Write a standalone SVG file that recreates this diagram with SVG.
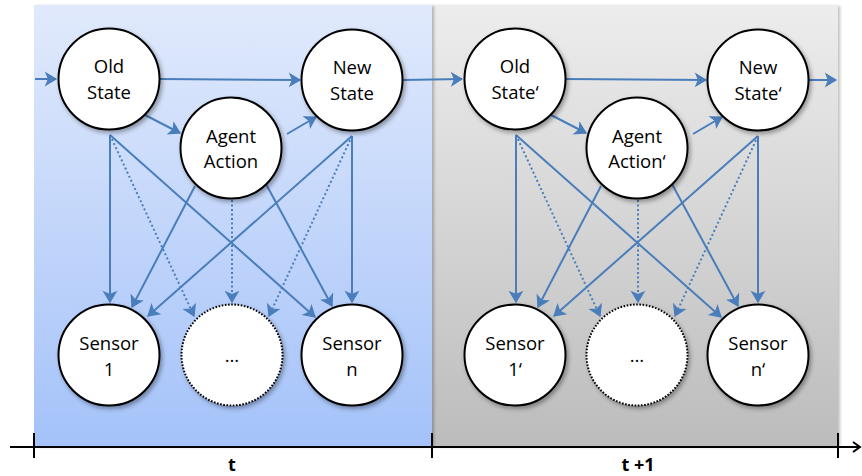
<svg xmlns="http://www.w3.org/2000/svg" width="862" height="476" viewBox="0 0 862 476">
<style>
.node circle{fill:#fff;stroke:#000;stroke-width:2;filter:url(#sh)}
.node circle.dots{stroke-dasharray:1.6 1.6}
.node text{font-family:"Open Sans","Liberation Sans",sans-serif;font-size:18.5px;fill:#000;text-anchor:middle}
.c line{stroke:#4a7ebb;stroke-width:2;fill:none;marker-end:url(#ah)}
.c line.d{stroke-dasharray:2 2.5}
.lbl{font-family:"Open Sans","Liberation Sans",sans-serif;font-size:18px;font-weight:bold;text-anchor:middle}
</style>
<defs>
<linearGradient id="gb" x1="0" y1="0" x2="0" y2="1">
<stop offset="0" stop-color="#e1eafc"/>
<stop offset="1" stop-color="#a4c2f9"/>
</linearGradient>
<linearGradient id="gg" x1="0" y1="0" x2="0" y2="1">
<stop offset="0" stop-color="#ededed"/>
<stop offset="1" stop-color="#bcbcbc"/>
</linearGradient>
<filter id="sh" x="-20%" y="-20%" width="150%" height="150%">
<feDropShadow dx="2" dy="2.5" stdDeviation="2" flood-color="#000" flood-opacity="0.35"/>
</filter>
<filter id="psh" x="-5%" y="-5%" width="110%" height="110%">
<feDropShadow dx="2" dy="1" stdDeviation="1.5" flood-color="#000" flood-opacity="0.25"/>
</filter>
<marker id="ah" viewBox="-12 -8 14 16" refX="0" refY="0" markerWidth="14" markerHeight="16" markerUnits="userSpaceOnUse" orient="auto">
<path d="M-10,-6 L0,0 L-10,6 L-7.5,0 Z" fill="#4a7ebb" stroke="#4a7ebb" stroke-width="1.2" stroke-linejoin="miter"/>
</marker>
<marker id="ak" viewBox="-11 -7 13 14" refX="0" refY="0" markerWidth="13" markerHeight="14" markerUnits="userSpaceOnUse" orient="auto">
<path d="M-7,-5 L0,0 L-7,5" fill="none" stroke="#000" stroke-width="2"/>
</marker>
</defs>
<rect width="862" height="476" fill="#fff"/>
<g id="panels">
<rect id="panel-t1" x="432" y="5" width="406" height="441" fill="url(#gg)" filter="url(#psh)"/>
<rect id="panel-t" x="34" y="5" width="398" height="441" fill="url(#gb)" filter="url(#psh)"/>
</g>
<g id="timeline" stroke="#000" stroke-width="2">
<line x1="10" y1="447" x2="860" y2="447" marker-end="url(#ak)"/>
<line x1="34" y1="433" x2="34" y2="458"/>
<line x1="432" y1="433" x2="432" y2="458"/>
<line x1="838" y1="433" x2="838" y2="458"/>
</g>
<text class="lbl" x="232" y="471">t</text>
<text class="lbl" x="638" y="471">t +1</text>
<g id="connectors" class="c">
<line x1="35" y1="79" x2="56" y2="79"/>
<line x1="160" y1="79" x2="300" y2="80"/>
<line x1="145" y1="115" x2="180" y2="133"/>
<line x1="287" y1="134" x2="316" y2="117"/>
<line x1="110" y1="135" x2="110" y2="302"/>
<line x1="110" y1="135" x2="315" y2="317"/>
<line class="d" x1="110" y1="135" x2="194" y2="316"/>
<line x1="195" y1="186" x2="132" y2="307"/>
<line x1="266" y1="184" x2="332" y2="306"/>
<line class="d" x1="232" y1="200" x2="232" y2="302"/>
<line x1="352" y1="136" x2="148" y2="316"/>
<line x1="352" y1="136" x2="352" y2="302"/>
<line class="d" x1="352" y1="136" x2="269" y2="316"/>
<line x1="403" y1="80" x2="462" y2="79"/>
<line x1="566" y1="79" x2="706" y2="80"/>
<line x1="551" y1="115" x2="586" y2="133"/>
<line x1="693" y1="134" x2="722" y2="117"/>
<line x1="516" y1="135" x2="516" y2="302"/>
<line x1="516" y1="135" x2="721" y2="317"/>
<line class="d" x1="516" y1="135" x2="600" y2="316"/>
<line x1="601" y1="186" x2="538" y2="307"/>
<line x1="672" y1="184" x2="738" y2="306"/>
<line class="d" x1="638" y1="200" x2="638" y2="302"/>
<line x1="758" y1="136" x2="554" y2="316"/>
<line x1="758" y1="136" x2="758" y2="302"/>
<line class="d" x1="758" y1="136" x2="675" y2="316"/>
<line x1="809" y1="80" x2="836" y2="80"/>
</g>
<g id="old-state" class="node"><circle cx="109" cy="79" r="50.5"/><text x="109" y="73">Old</text><text x="109" y="99">State</text></g>
<g id="new-state" class="node"><circle cx="352" cy="80" r="50.5"/><text x="352" y="74">New</text><text x="352" y="100">State</text></g>
<g id="agent-action" class="node"><circle cx="231" cy="148" r="50.5"/><text x="231" y="143">Agent</text><text x="231" y="168">Action</text></g>
<g id="sensor-1" class="node"><circle cx="109" cy="355" r="50.5"/><text x="109" y="350">Sensor</text><text x="109" y="376">1</text></g>
<g id="sensor-dots" class="node"><circle class="dots" cx="232" cy="355" r="50.5"/><text x="232" y="362">…</text></g>
<g id="sensor-n" class="node"><circle cx="352" cy="355" r="50.5"/><text x="352" y="350">Sensor</text><text x="352" y="376">n</text></g>
<g id="old-state-2" class="node"><circle cx="515" cy="79" r="50.5"/><text x="515" y="73">Old</text><text x="515" y="99">State‘</text></g>
<g id="new-state-2" class="node"><circle cx="758" cy="80" r="50.5"/><text x="758" y="74">New</text><text x="758" y="100">State‘</text></g>
<g id="agent-action-2" class="node"><circle cx="637" cy="148" r="50.5"/><text x="637" y="143">Agent</text><text x="637" y="168">Action‘</text></g>
<g id="sensor-1-2" class="node"><circle cx="515" cy="355" r="50.5"/><text x="515" y="350">Sensor</text><text x="515" y="376">1‘</text></g>
<g id="sensor-dots-2" class="node"><circle class="dots" cx="637" cy="355" r="50.5"/><text x="637" y="362">…</text></g>
<g id="sensor-n-2" class="node"><circle cx="758" cy="355" r="50.5"/><text x="758" y="350">Sensor</text><text x="758" y="376">n‘</text></g>
</svg>
